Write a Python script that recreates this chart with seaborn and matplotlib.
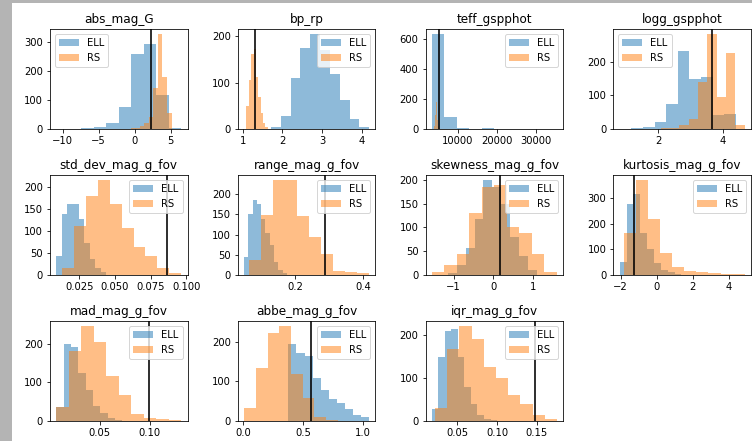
import numpy as np
import pandas as pd
import matplotlib
matplotlib.use("Agg")
import matplotlib.pyplot as plt
from matplotlib.patches import Rectangle
import seaborn as sns

# Panel titles (feature names)
titles = [
    "abs_mag_G", "bp_rp", "teff_gspphot", "logg_gspphot",
    "std_dev_mag_g_fov", "range_mag_g_fov", "skewness_mag_g_fov", "kurtosis_mag_g_fov",
    "mad_mag_g_fov", "abbe_mag_g_fov", "iqr_mag_g_fov",
]

# ELL class: histogram range (min, max) and counts in 10 equal bins
ell_min = [-10.87, 1.71, 3450, 0.80, 0.0088, 0.049, -1.15, -2.05, 0.0067, 0.375, 0.0184]
ell_max = [6.45, 4.19, 35400, 4.41, 0.0478, 0.175, 1.10, 1.75, 0.080, 1.05, 0.100]
ell_counts = [
    [1, 0, 2, 8, 22, 75, 261, 294, 117, 3],
    [4, 29, 109, 175, 205, 171, 118, 62, 21, 4],
    [633, 82, 9, 0, 8, 0, 0, 0, 0, 1],
    [1, 2, 5, 21, 73, 232, 149, 155, 41, 46],
    [44, 138, 161, 161, 128, 74, 36, 17, 6, 1],
    [45, 152, 187, 175, 140, 103, 74, 33, 12, 4],
    [5, 20, 57, 118, 200, 185, 150, 80, 40, 10],
    [49, 274, 313, 165, 100, 45, 20, 10, 3, 1],
    [37, 200, 191, 125, 80, 40, 20, 8, 3, 1],
    [195, 171, 165, 108, 79, 55, 45, 30, 15, 11],
    [28, 150, 209, 215, 150, 80, 40, 15, 5, 2],
]

# RS class: histogram range (min, max) and counts in 10 equal bins
rs_min = [-1.20, 1.03, 4000, 1.78, 0.0127, 0.063, -1.55, -1.82, 0.0067, 0.005, 0.0225]
rs_max = [5.10, 1.63, 6100, 4.68, 0.0965, 0.417, 1.60, 4.88, 0.1317, 0.985, 0.175]
rs_counts = [
    [1, 2, 5, 10, 20, 40, 143, 330, 180, 56],
    [1, 49, 105, 162, 173, 112, 69, 34, 12, 4],
    [20, 90, 300, 180, 60, 20, 8, 3, 1, 1],
    [1, 2, 4, 12, 30, 139, 283, 95, 227, 12],
    [15, 112, 180, 217, 161, 108, 63, 44, 17, 4],
    [37, 148, 235, 236, 146, 95, 52, 11, 8, 5],
    [6, 21, 45, 131, 184, 190, 101, 88, 45, 6],
    [165, 370, 216, 85, 30, 17, 10, 6, 4, 3],
    [37, 180, 246, 203, 116, 67, 18, 7, 5, 3],
    [32, 134, 223, 241, 119, 58, 11, 3, 1, 1],
    [30, 168, 222, 190, 125, 100, 60, 40, 15, 5],
]

# Threshold marked on each panel
thresholds = [2.25, 1.31, 5200, 3.66, 0.0865, 0.287, 0.17, -1.25, 0.099, 0.565, 0.148]

legend_loc = ["upper left", "upper right", "upper right", "upper left"] + ["upper right"] * 7

BLUE = "#1f77b4"
ORANGE = "#ff7f0e"

plt.rcParams["font.family"] = "DejaVu Sans"
W, H, DPI = 752, 441, 72
fig, axes = plt.subplots(3, 4, figsize=(W / DPI, H / DPI), dpi=DPI)
fig.patch.set_facecolor("#b4b4b4")
fig.patches.append(Rectangle((12 / W, 0), 1 - 12 / W, 1 - 3 / H, transform=fig.transFigure,
                             facecolor="white", edgecolor="none", zorder=-5))
fig.subplots_adjust(left=50 / W, right=751 / W, top=1 - 29 / H, bottom=1 - 421 / H,
                    wspace=0.365, hspace=0.46)

for i, ax in enumerate(axes.flat):
    if i >= len(titles):
        ax.remove()
        continue
    for lo, hi, cnt, col, lab in [
        (ell_min[i], ell_max[i], ell_counts[i], BLUE, "ELL"),
        (rs_min[i], rs_max[i], rs_counts[i], ORANGE, "RS"),
    ]:
        edges = np.linspace(lo, hi, 11)
        df = pd.DataFrame({"value": 0.5 * (edges[:-1] + edges[1:]), "count": cnt})
        sns.histplot(data=df, x="value", weights="count", bins=list(edges), color=col,
                     alpha=0.5, edgecolor="none", linewidth=0, label=lab, ax=ax)
    ax.axvline(thresholds[i], color="black", lw=1.6)
    ax.set_title(titles[i], fontsize=12)
    ax.set_xlabel("")
    ax.set_ylabel("")
    ax.tick_params(labelsize=10)
    ax.legend(loc=legend_loc[i], fontsize=10)

fig.savefig("out.png", dpi=DPI, facecolor=fig.get_facecolor())
